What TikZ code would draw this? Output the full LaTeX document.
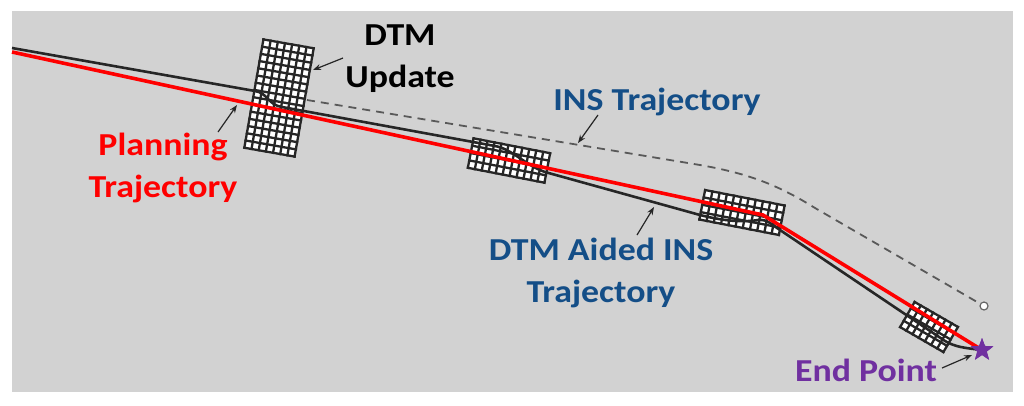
\documentclass[tikz,border=0pt]{standalone}
\usepackage{fontspec}
\setmainfont{Carlito}[FakeStretch=1.12]
\usetikzlibrary{arrows.meta,shapes.geometric}
\definecolor{bggray}{RGB}{210,210,210}
\definecolor{txtblue}{RGB}{20,78,135}
\definecolor{endpurple}{RGB}{112,48,160}
\tikzset{
  gridline/.style={draw=black!85, line width=2.3pt, line cap=rect},
  pics/gridbox/.style n args={4}{code={%
    \pgfmathsetmacro\gw{#1*#3/2}%
    \pgfmathsetmacro\gh{#2*#4/2}%
    \fill[white] (-\gw,-\gh) rectangle (\gw,\gh);
    \foreach \i in {0,...,#1} {\draw[gridline] ({-\gw+\i*#3},-\gh) -- ({-\gw+\i*#3},\gh);}
    \foreach \j in {0,...,#2} {\draw[gridline] (-\gw,{-\gh+\j*#4}) -- (\gw,{-\gh+\j*#4});}
  }}
}
\begin{document}
\begin{tikzpicture}[x=1pt,y=-1pt,
  traj/.style={line width=2.6pt, draw=black!85, line join=round},
  plan/.style={line width=3.6pt, draw=red, line join=round},
  ins/.style={line width=1.8pt, draw=black!65, dash pattern=on 8pt off 6pt},
  lbl/.style={font=\fontsize{32}{42}\selectfont\bfseries, align=center, anchor=base, inner sep=0pt},
  callout/.style={line width=1.2pt, draw=black!85, -{Stealth[length=8pt,width=6pt]}}]
\useasboundingbox (0,0) rectangle (1024,405);
\fill[white] (0,0) rectangle (1024,405);
\fill[bggray] (12,11) rectangle (1013,392);

% DTM grids
\pic[rotate=-10] (g1) at (279,98) {gridbox={7}{15}{7.29}{7.33}};
\pic[rotate=-11] (g2) at (509,160.5) {gridbox={11}{4}{7.09}{7.5}};
\pic[rotate=-11] (g3) at (742,212.5) {gridbox={11}{4}{7.36}{7.5}};
\pic[rotate=-30] (g4) at (929,327) {gridbox={7}{4}{7.14}{7.25}};

% end markers
\node[star, star points=5, star point ratio=2.4, fill=endpurple, minimum size=24pt, inner sep=0pt] (endstar) at (982,350) {};
\node[circle, draw=black!60, fill=white, line width=1.2pt, minimum size=8pt, inner sep=0pt] (insend) at (984,306) {};

% trajectories
\coordinate (insstart) at (307,100);
\draw[ins] (insstart) -- (700,165) .. controls (745,173) and (775,183) .. (815,208) -- (insend);

\coordinate (blackstart) at (12,48);
\draw[traj] (blackstart) -- (255,91) .. controls (268,93) and (268,105) .. (282,107)
  -- (495,146) .. controls (512,149) and (525,165) .. (545,172)
  -- (700,215) .. controls (720,220) and (740,223) .. (758,220)
  .. controls (768,219) and (772,225) .. (780,230)
  -- (945,341) .. controls (955,347) and (965,348) .. (endstar.center);

\coordinate (redstart) at (12,52);
\coordinate (redbend) at (763,215);
\draw[plan] (redstart) -- (redbend) -- (endstar.center);
\node[star, star points=5, star point ratio=2.4, fill=endpurple, minimum size=24pt, inner sep=0pt] (endstartop) at (982,350) {};

% labels (anchor base = baseline of the last line)
\node[lbl, text=black] (dtmlbl) at (400,87) {DTM\\Update};
\node[lbl, text=txtblue] (inslbl) at (657,110) {INS Trajectory};
\node[lbl, text=red] (planlbl) at (163,197) {Planning\\Trajectory};
\node[lbl, text=txtblue] (aidedlbl) at (601,302) {DTM Aided INS\\Trajectory};
\node[lbl, text=endpurple] (endlbl) at (866,381) {End Point};

% callout arrows
\coordinate (dtmtail) at (343,58);   \coordinate (dtmhead) at (313,70);
\coordinate (plantail) at (218,132); \coordinate (planhead) at (237,105);
\coordinate (instail) at (598,115);  \coordinate (inshead) at (578,143);
\coordinate (aidedtail) at (637,235);\coordinate (aidedhead) at (654,207);
\coordinate (endtail) at (942,368);  \coordinate (endhead) at (972,355);
\draw[callout] (dtmtail) -- (dtmhead);
\draw[callout] (plantail) -- (planhead);
\draw[callout] (instail) -- (inshead);
\draw[callout] (aidedtail) -- (aidedhead);
\draw[callout] (endtail) -- (endhead);
\end{tikzpicture}
\end{document}
